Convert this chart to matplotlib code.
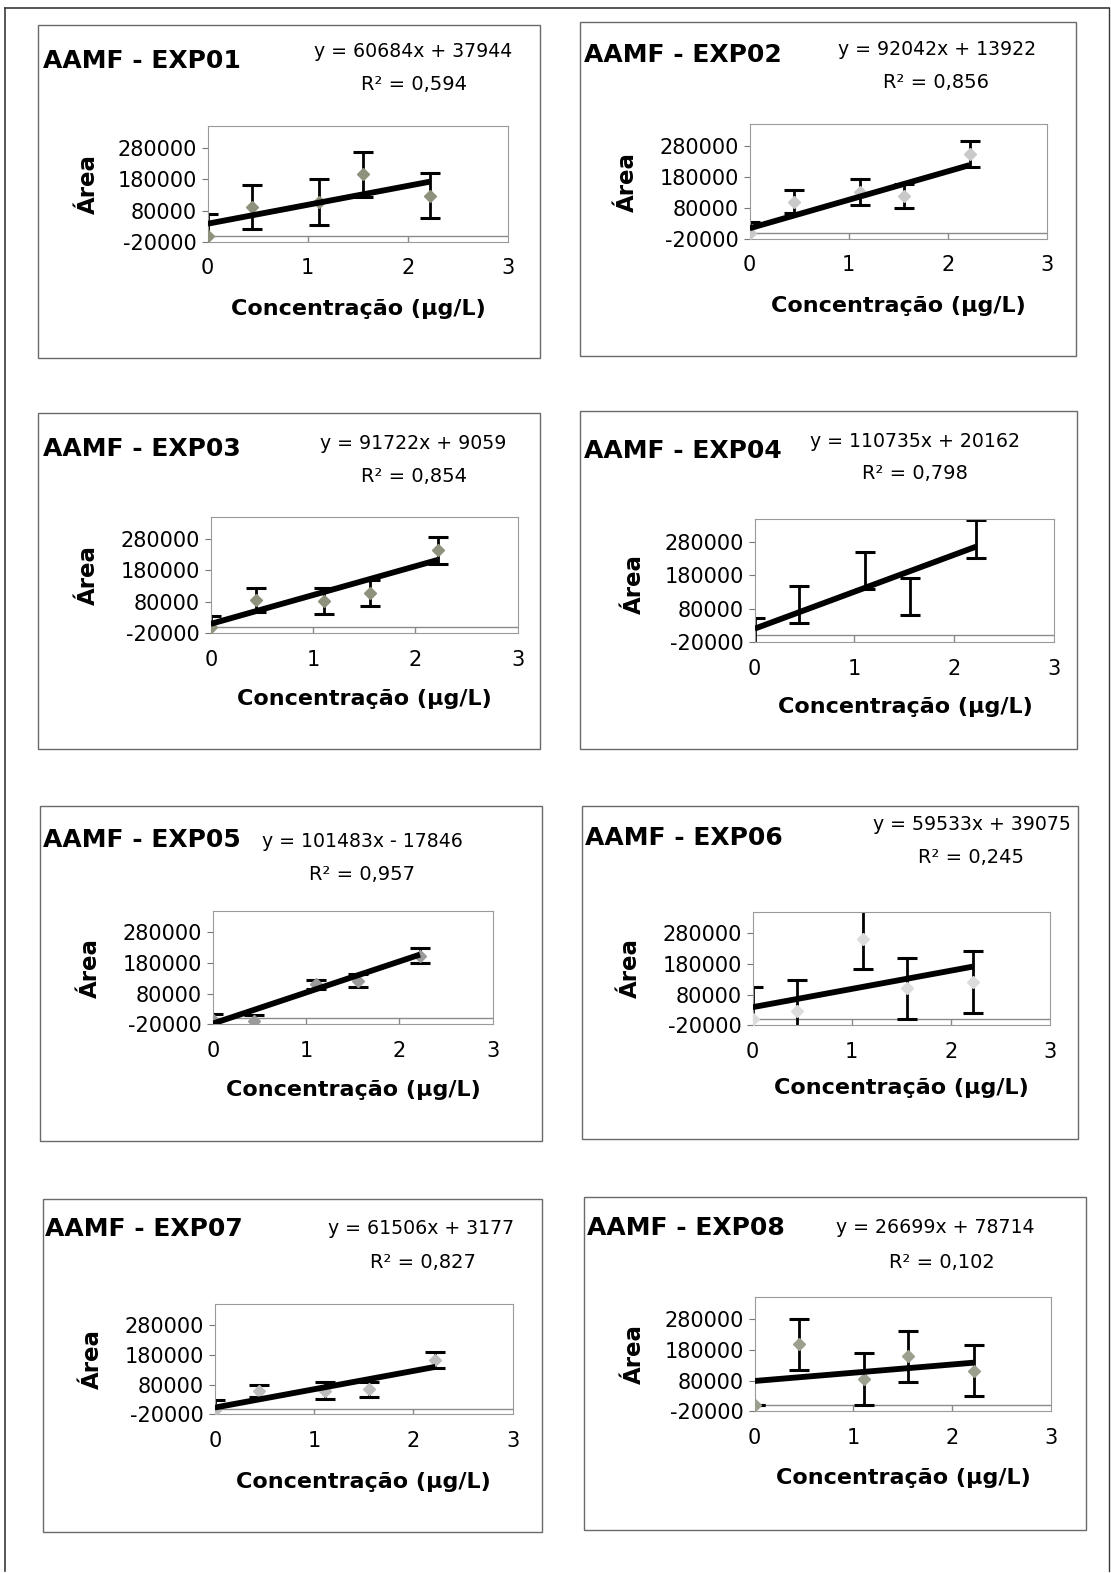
import matplotlib
matplotlib.use("Agg")
import matplotlib.pyplot as plt
from matplotlib.lines import Line2D
from matplotlib.patches import Rectangle
import numpy as np

plt.rcParams['font.family'] = ['DejaVu Sans']

# ---------------- data ----------------
titles = ["AAMF - EXP01", "AAMF - EXP02", "AAMF - EXP03", "AAMF - EXP04",
          "AAMF - EXP05", "AAMF - EXP06", "AAMF - EXP07", "AAMF - EXP08"]

x_conc = [0.0, 0.444, 1.11, 1.554, 2.22]

exp01 = [0, 92000, 107000, 196000, 128000]
exp02 = [0, 100000, 132000, 118000, 255000]
exp03 = [0, 85000, 82000, 106000, 243000]
exp04 = [10000, 92000, 195000, 116000, 289000]
exp05 = [-5000, -10000, 110000, 122000, 204000]
exp06 = [0, 25000, 263000, 100000, 121000]
exp07 = [-5000, 60000, 60000, 64000, 163000]
exp08 = [0, 197000, 84000, 158000, 112000]

err01 = [70000, 70000, 73000, 72000, 72000]
err02 = [35000, 37000, 42000, 40000, 42000]
err03 = [35000, 38000, 41000, 41000, 42000]
err04 = [42000, 55000, 55000, 55000, 57000]
err05 = [17000, 20000, 15000, 21000, 24000]
err06 = [105000, 103000, 100000, 100000, 102000]
err07 = [33000, 20000, 29000, 26000, 27000]
err08 = [0, 83000, 84000, 82000, 83000]

slopes = [60684, 92042, 91722, 110735, 101483, 59533, 61506, 26699]
intercepts = [37944, 13922, 9059, 20162, -17846, 39075, 3177, 78714]
r2_labels = ["0,594", "0,856", "0,854", "0,798", "0,957", "0,245", "0,827", "0,102"]

y_ticks = [-20000, 80000, 180000, 280000]
y_tick_labels = ["-20000", "80000", "180000", "280000"]
x_ticks = [0, 1, 2, 3]
x_tick_labels = ["0", "1", "2", "3"]

means = [exp01, exp02, exp03, exp04, exp05, exp06, exp07, exp08]
errs = [err01, err02, err03, err04, err05, err06, err07, err08]

# ---------------- styling / layout (reference pixel frame) ----------------
W, H = 1107, 1568
marker_colors = ['#8e927c', '#c9c9c9', '#8e927c', 'none',
                 '#9a9a9a', '#dcdcdc', '#bdbdbd', '#9a9f8e']

# box (l, t, r, b), plot (left, right, top, bottom), title, eq, r2, ylabel, xlabel
layout = [
    dict(box=(38, 25, 538, 357), plot=(207, 506, 126, 241), title=(43, 58), eq=(412, 49), r2=(413, 82), yl=(88, 183), xl=(357, 308)),
    dict(box=(578, 22, 1072, 355), plot=(747, 1043, 124, 238), title=(582, 52), eq=(934, 47), r2=(933, 80), yl=(625, 181), xl=(895, 305)),
    dict(box=(38, 412, 538, 747), plot=(210, 516, 515, 631), title=(43, 445), eq=(412, 440), r2=(413, 473), yl=(88, 573), xl=(363, 697)),
    dict(box=(578, 410, 1073, 747), plot=(752, 1050, 517, 640), title=(582, 447), eq=(912, 438), r2=(912, 470), yl=(632, 582), xl=(902, 705)),
    dict(box=(40, 803, 540, 1137), plot=(212, 491, 908, 1021), title=(43, 835), eq=(361, 837), r2=(361, 870), yl=(90, 965), xl=(352, 1087)),
    dict(box=(580, 803, 1074, 1135), plot=(750, 1046, 909, 1022), title=(583, 833), eq=(968, 820), r2=(968, 853), yl=(628, 965), xl=(898, 1085)),
    dict(box=(43, 1195, 540, 1527), plot=(214, 511, 1300, 1410), title=(45, 1223), eq=(420, 1223), r2=(421, 1256), yl=(92, 1355), xl=(362, 1477)),
    dict(box=(582, 1193, 1082, 1525), plot=(752, 1047, 1293, 1407), title=(585, 1222), eq=(932, 1222), r2=(938, 1256), yl=(632, 1350), xl=(900, 1473)),
]


def fx(x):
    return x / W


def fy(y):
    return 1 - y / H


fig = plt.figure(figsize=(11.11, 15.73), dpi=100)
fig.patch.set_facecolor('white')

# outer page frame
frame_c = '#3a3a3a'
fig.add_artist(Line2D([fx(5), fx(5)], [fy(8), fy(1566)], color=frame_c, lw=1.2))
fig.add_artist(Line2D([fx(5), fx(1105)], [fy(8), fy(8)], color=frame_c, lw=1.2))
fig.add_artist(Line2D([fx(1105), fx(1105)], [fy(8), fy(1566)], color=frame_c, lw=1.0))

ylim = (-20000, 350000)

for i in range(8):
    L = layout[i]
    l, t, r, b = L['box']
    fig.add_artist(Rectangle((fx(l), fy(b)), fx(r) - fx(l), fy(t) - fy(b),
                             transform=fig.transFigure, fill=False,
                             ec='#6a6a6a', lw=1.0))
    pl, pr, pt, pb = L['plot']
    ax = fig.add_axes([fx(pl), fy(pb), fx(pr) - fx(pl), fy(pt) - fy(pb)])
    ax.set_xlim(0, 3)
    ax.set_ylim(*ylim)
    for s in ax.spines.values():
        s.set_color('#9a9a9a')
        s.set_linewidth(0.8)
    ax.set_yticks(y_ticks)
    ax.set_yticklabels(y_tick_labels)
    ax.set_xticks(x_ticks)
    ax.set_xticklabels(x_tick_labels)
    ax.tick_params(axis='y', direction='out', length=4, width=0.8,
                   color='#777777', pad=4, labelsize=15)
    ax.tick_params(axis='x', length=0, pad=12, labelsize=15)

    # category axis crossing at y = 0
    ax.axhline(0, color='#8a8a8a', lw=1.0, zorder=1)
    ax.vlines(x_ticks[1:-1], ylim[0], 0, color='#8a8a8a', lw=1.0, zorder=1)

    ax.errorbar(x_conc, means[i], yerr=errs[i], fmt='none', ecolor='black',
                elinewidth=2.0, capsize=7.5, capthick=2.2, zorder=2)
    mc = marker_colors[i]
    if mc != 'none':
        ax.plot(x_conc, means[i], 'D', ms=6.5, color=mc, mec=mc,
                ls='none', zorder=3)
    xfit = np.array([x_conc[0], x_conc[-1]])
    ax.plot(xfit, slopes[i] * xfit + intercepts[i], color='black', lw=4.2,
            solid_capstyle='butt', zorder=4)

    # texts
    fig.text(fx(L['title'][0]), fy(L['title'][1]), titles[i], fontsize=18,
             fontweight='bold', ha='left', va='center_baseline')
    sign = '+' if intercepts[i] >= 0 else '-'
    eq = f"y = {slopes[i]}x {sign} {abs(intercepts[i])}"
    fig.text(fx(L['eq'][0]), fy(L['eq'][1]), eq, fontsize=13.6,
             ha='center', va='center_baseline')
    fig.text(fx(L['r2'][0]), fy(L['r2'][1]), "R² = " + r2_labels[i],
             fontsize=14, ha='center', va='center_baseline')
    fig.text(fx(L['yl'][0]), fy(L['yl'][1]), "Área", rotation=90,
             fontsize=16.5, fontweight='bold', ha='center', va='center')
    fig.text(fx(L['xl'][0]), fy(L['xl'][1]), "Concentração (µg/L)",
             fontsize=16, fontweight='bold', ha='center', va='center')

fig.savefig("out.png", dpi=100, facecolor='white')
